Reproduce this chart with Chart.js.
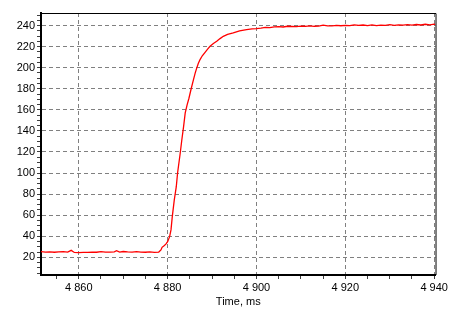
<!DOCTYPE html>
<html>
<head>
<meta charset="utf-8">
<script src="https://cdn.jsdelivr.net/npm/chart.js@4"></script>
<style>
  html, body { margin: 0; padding: 0; background: #ffffff; }
  #wrap { width: 450px; height: 320px; position: relative; }
</style>
</head>
<body>
<div id="wrap"><canvas id="chart" width="450" height="320"></canvas></div>
<script>
// --- data ---
const times = [
  4851.5, 4852.5, 4853.5, 4854.5, 4855.5, 4856.5, 4857.5, 4858.3, 4859.0, 4860.0,
  4861.0, 4862.0, 4863.0, 4864.0, 4865.0, 4866.0, 4867.0, 4868.0, 4868.5, 4869.2,
  4870.0, 4871.0, 4872.0, 4873.0, 4874.0, 4875.0, 4876.0, 4877.0, 4878.0, 4878.5,
  4878.75, 4879.2, 4879.6, 4880.0, 4880.45, 4880.76, 4881.05, 4881.5, 4881.95, 4882.24,
  4882.84, 4883.2, 4883.6, 4883.96, 4884.4, 4884.8, 4885.3, 4885.82, 4886.2, 4886.58,
  4886.9, 4887.3, 4887.8, 4888.43, 4889.0, 4889.55, 4890.3, 4891.05, 4891.8, 4892.53,
  4893.5, 4894.77, 4896.2, 4897.76, 4899.0, 4900.0, 4901.0, 4902.0, 4903.0,
  4904.0, 4905.0, 4906.0, 4907.0, 4908.0, 4909.0, 4910.0, 4911.0, 4912.0, 4913.0,
  4914.0, 4915.0, 4916.0, 4917.0, 4918.0, 4919.0, 4920.0, 4921.0, 4922.0, 4923.0,
  4924.0, 4925.0, 4926.0, 4927.0, 4928.0, 4929.0, 4930.0, 4931.0, 4932.0, 4933.0,
  4934.0, 4935.0, 4936.0, 4937.0, 4938.0, 4939.0, 4940.0, 4940.3
];
const values = [
  25.3, 25.0, 25.2, 24.8, 25.1, 25.3, 24.9, 26.6, 24.6, 24.5,
  24.7, 24.6, 25.0, 24.8, 25.4, 25.0, 24.9, 25.2, 26.2, 25.0,
  25.5, 25.1, 24.9, 25.3, 25.0, 24.8, 25.2, 24.6, 25.0, 27.0,
  29.5, 31.0, 32.5, 34.8, 39.6, 46.0, 58.6, 74.5, 87.0, 100.0,
  119.0, 131.6, 144.3, 157.0, 165.0, 171.0, 180.0, 188.6, 194.8, 200.0,
  204.0, 207.7, 211.3, 214.6, 217.6, 220.3, 222.9, 225.0, 227.6, 229.8,
  231.6, 233.0, 234.9, 236.2, 236.8, 237.1, 237.6, 238.2, 238.0,
  238.7, 238.9, 238.6, 239.3, 239.1, 238.9, 239.4, 239.3, 239.7, 239.3,
  239.5, 240.3, 239.6, 239.7, 240.1, 239.8, 240.2, 239.9, 240.6, 240.1,
  240.5, 239.9, 240.6, 240.0, 240.3, 240.1, 240.8, 240.2, 240.7, 240.3,
  240.9, 240.4, 241.0, 240.5, 241.2, 240.6, 241.3, 240.8
];
const xTickLabels = [4860, 4880, 4900, 4920, 4940];
const yTickLabels = [20, 40, 60, 80, 100, 120, 140, 160, 180, 200, 220, 240];
const xMinorStep = 5;
const yMinorStep = 5;

const xMin = 4851.5, xMax = 4940.3;
const yMin = 3.2, yMax = 251.9;

function fmt(v) {
    return String(Math.round(v)).replace(/\B(?=(\d{3})+(?!\d))/g, ' ');
}

function minorTicks(min, max, step) {
    const out = [];
    for (let v = Math.ceil(min / step) * step; v <= max + 1e-9; v += step) out.push({ value: v });
    return out;
}

// top and right thin frame
const framePlugin = {
    id: 'frame',
    afterDraw(chart) {
        const { ctx, chartArea: a } = chart;
        ctx.save();
        ctx.strokeStyle = '#000000';
        ctx.lineWidth = 1;
        ctx.beginPath();
        ctx.moveTo(a.left, a.top + 0.5);
        ctx.lineTo(a.right + 0.5, a.top + 0.5);
        ctx.lineTo(a.right + 0.5, a.bottom);
        ctx.stroke();
        ctx.restore();
    }
};

const font = { family: 'Liberation Sans, Arial, sans-serif', size: 11 };

new Chart(document.getElementById('chart').getContext('2d'), {
    type: 'line',
    data: {
        datasets: [{
            data: times.map((t, i) => ({ x: t, y: values[i] })),
            borderColor: '#ff0000',
            borderWidth: 1.3,
            pointRadius: 0,
            tension: 0,
            fill: false
        }]
    },
    options: {
        responsive: false,
        animation: false,
        events: [],
        layout: { padding: { top: 13, right: 13, left: 0, bottom: 0 } },
        plugins: {
            legend: { display: false },
            tooltip: { enabled: false }
        },
        scales: {
            x: {
                type: 'linear',
                min: xMin,
                max: xMax,
                afterBuildTicks: s => { s.ticks = minorTicks(xMin, xMax, xMinorStep); },
                afterFit: s => { s.height = 45; },
                ticks: {
                    autoSkip: false,
                    maxRotation: 0,
                    padding: 2,
                    color: '#000000',
                    font: font,
                    callback: v => xTickLabels.includes(Math.round(v)) ? fmt(v) : ''
                },
                grid: {
                    color: c => (c.tick && xTickLabels.includes(Math.round(c.tick.value))) ? '#808080' : 'rgba(0,0,0,0)',
                    tickColor: '#404040',
                    tickLength: 4,
                    lineWidth: 1
                },
                border: { display: true, color: '#000000', width: 2, dash: [4, 3] },
                title: {
                    display: true,
                    text: 'Time, ms',
                    color: '#000000',
                    font: font,
                    padding: { top: 0, bottom: 11 }
                }
            },
            y: {
                type: 'linear',
                min: yMin,
                max: yMax,
                afterBuildTicks: s => { s.ticks = minorTicks(yMin, yMax, yMinorStep); },
                afterFit: s => { s.width = 41; },
                ticks: {
                    autoSkip: false,
                    padding: 2,
                    color: '#000000',
                    font: font,
                    callback: v => yTickLabels.includes(Math.round(v)) ? fmt(v) : ''
                },
                grid: {
                    color: c => (c.tick && yTickLabels.includes(Math.round(c.tick.value))) ? '#808080' : 'rgba(0,0,0,0)',
                    tickColor: '#404040',
                    tickLength: 4,
                    lineWidth: 1
                },
                border: { display: true, color: '#000000', width: 2, dash: [4, 3] }
            }
        }
    },
    plugins: [framePlugin]
});
</script>
</body>
</html>
